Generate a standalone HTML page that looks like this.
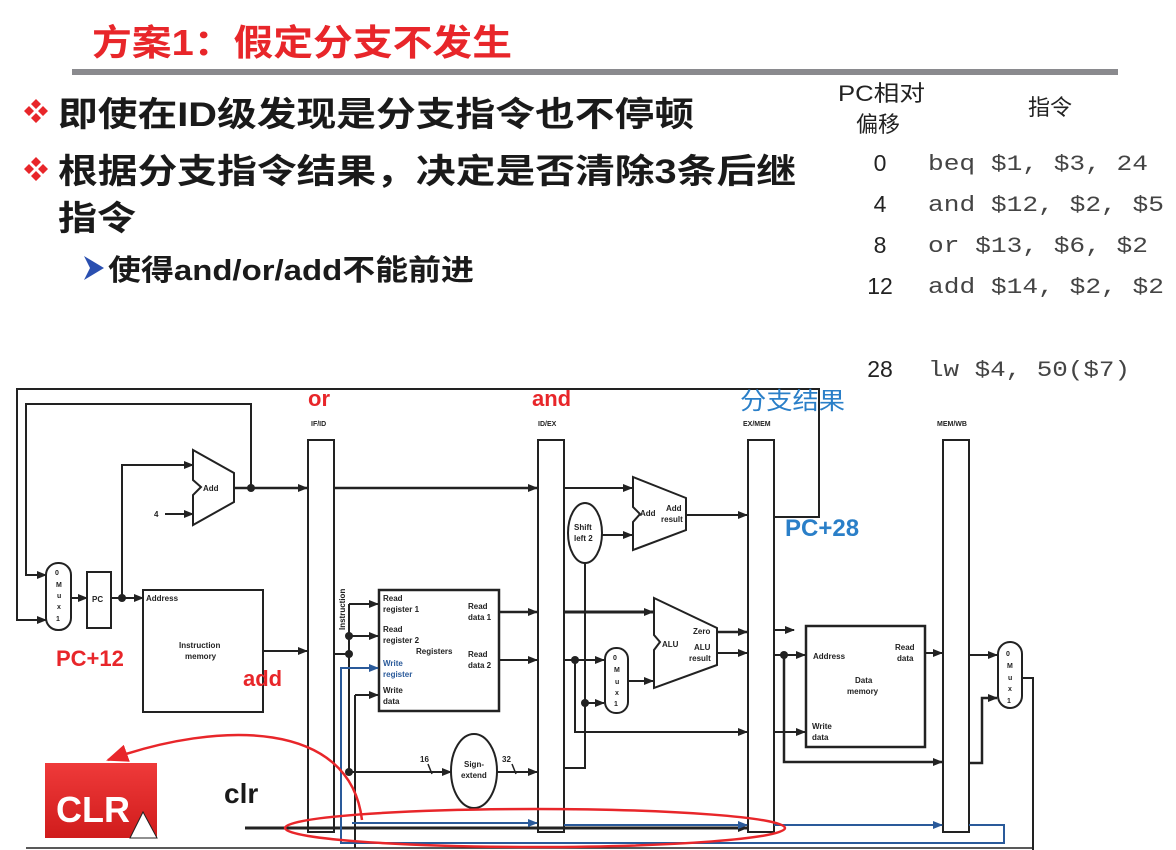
<!DOCTYPE html>
<html><head><meta charset="utf-8"><style>
html,body{margin:0;padding:0;background:#fff;width:1176px;height:850px;overflow:hidden}
svg{display:block}
.cn{font-family:"Liberation Sans","Noto Sans CJK SC",sans-serif;font-weight:bold}
.s{font-family:"Liberation Sans",sans-serif;font-size:8px;font-weight:bold;fill:#222}
</style></head><body>
<svg width="1176" height="850" viewBox="0 0 1176 850" xmlns="http://www.w3.org/2000/svg">
<defs>
<marker id="a" markerWidth="10" markerHeight="8" refX="9" refY="4" orient="auto" markerUnits="userSpaceOnUse"><path d="M0,0 L10,4 L0,8 Z" fill="#222"/></marker>
<marker id="ab" markerWidth="10" markerHeight="8" refX="9" refY="4" orient="auto" markerUnits="userSpaceOnUse"><path d="M0,0 L10,4 L0,8 Z" fill="#2a5a9a"/></marker>
<marker id="ar" markerWidth="22" markerHeight="18" refX="20" refY="9" orient="auto" markerUnits="userSpaceOnUse"><path d="M0,0 L22,9 L0,18 Z" fill="#e8262a"/></marker>
<linearGradient id="g" x1="0" y1="0" x2="0" y2="1"><stop offset="0" stop-color="#ef3a3a"/><stop offset="1" stop-color="#d01c1c"/></linearGradient>
</defs>

<!-- header -->
<text x="92" y="55" class="cn" font-size="36" fill="#e8262a" textLength="420" lengthAdjust="spacingAndGlyphs">方案1：假定分支不发生</text>
<rect x="72" y="69" width="1046" height="6" fill="#8a8a8e"/>
<g fill="#e8262a">
<path d="M36,99 l5,5 l-5,5 l-5,-5z M29,106 l5,5 l-5,5 l-5,-5z M43,106 l5,5 l-5,5 l-5,-5z M36,113 l5,5 l-5,5 l-5,-5z"/>
<path d="M36,157 l5,5 l-5,5 l-5,-5z M29,164 l5,5 l-5,5 l-5,-5z M43,164 l5,5 l-5,5 l-5,-5z M36,171 l5,5 l-5,5 l-5,-5z"/>
</g>
<text x="58" y="126" class="cn" font-size="34" fill="#1a1a1a" textLength="636" lengthAdjust="spacingAndGlyphs">即使在ID级发现是分支指令也不停顿</text>
<text x="58" y="183" class="cn" font-size="34" fill="#1a1a1a" textLength="738" lengthAdjust="spacingAndGlyphs">根据分支指令结果，决定是否清除3条后继</text>
<text x="58" y="230" class="cn" font-size="34" fill="#1a1a1a" textLength="78" lengthAdjust="spacingAndGlyphs">指令</text>
<path d="M84,256 L104,268 L84,280 L90,268 Z" fill="#2a4fb0"/>
<text x="108" y="280" class="cn" font-size="29" fill="#1a1a1a" textLength="366" lengthAdjust="spacingAndGlyphs">使得and/or/add不能前进</text>

<g font-family="Liberation Sans,Noto Sans CJK SC,sans-serif" font-size="22" fill="#222">
<text x="838" y="101" textLength="87" lengthAdjust="spacingAndGlyphs">PC相对</text>
<text x="856" y="132">偏移</text>
<text x="1028" y="115">指令</text>
<text x="880" y="171" text-anchor="middle" font-size="23">0</text>
<text x="880" y="212" text-anchor="middle" font-size="23">4</text>
<text x="880" y="253" text-anchor="middle" font-size="23">8</text>
<text x="880" y="294" text-anchor="middle" font-size="23">12</text>
<text x="880" y="377" text-anchor="middle" font-size="23">28</text>
</g>
<g font-family="Liberation Mono,monospace" font-size="22" fill="#444">
<text x="928" y="170" textLength="220" lengthAdjust="spacingAndGlyphs">beq $1, $3, 24</text>
<text x="928" y="211" textLength="236" lengthAdjust="spacingAndGlyphs">and $12, $2, $5</text>
<text x="928" y="252" textLength="220" lengthAdjust="spacingAndGlyphs">or $13, $6, $2</text>
<text x="928" y="293" textLength="236" lengthAdjust="spacingAndGlyphs">add $14, $2, $2</text>
<text x="928" y="376" textLength="202" lengthAdjust="spacingAndGlyphs">lw $4, 50($7)</text>
</g>

<!-- datapath -->
<g fill="none" stroke="#222" stroke-width="2">
<!-- outer loops -->
<path d="M775,517 H819 V389 H17 V620 H46" marker-end="url(#a)"/>
<path d="M251,488 V404 H26 V575 H46" marker-end="url(#a)"/>
<!-- mux0 -->
<rect x="46" y="563" width="25" height="67" rx="12"/>
<path d="M71,598 H87" marker-end="url(#a)"/>
<rect x="87" y="572" width="24" height="56"/>
<path d="M111,598 H143" marker-end="url(#a)"/>
<path d="M122,598 V465 H193" marker-end="url(#a)"/>
<path d="M165,514 H193" marker-end="url(#a)"/>
<!-- Add -->
<path d="M193,450 L234,473 V502 L193,525 V495 L201,487 L193,480 Z"/>
<path d="M234,488 H307" marker-end="url(#a)" stroke-width="2.5"/>
<!-- instr mem -->
<rect x="143" y="590" width="120" height="122"/>
<path d="M263,651 H307" marker-end="url(#a)"/>
<!-- pipeline regs -->
<rect x="308" y="440" width="26" height="392"/>
<rect x="538" y="440" width="26" height="392"/>
<rect x="748" y="440" width="26" height="392"/>
<rect x="943" y="440" width="26" height="392"/>
<path d="M334,488 H537" marker-end="url(#a)" stroke-width="2.5"/>
<!-- registers -->
<rect x="379" y="590" width="120" height="121" stroke-width="2.5"/>
<path d="M349,604 H378" marker-end="url(#a)"/>
<path d="M349,604 V772"/>
<path d="M349,636 H378" marker-end="url(#a)"/>
<path d="M334,654 H349"/>
<path d="M355,695 V848"/>
<path d="M355,695 H378" marker-end="url(#a)"/>
<path d="M349,772 H451" marker-end="url(#a)"/>
<path d="M499,612 H537" marker-end="url(#a)" stroke-width="2.5"/>
<path d="M499,660 H537" marker-end="url(#a)"/>
<ellipse cx="474" cy="771" rx="23" ry="37"/>
<path d="M497,772 H537" marker-end="url(#a)"/>
<path d="M428,764 l4,10 M512,764 l4,10" stroke-width="1.5"/>
<!-- EX stage -->
<path d="M564,488 H632" marker-end="url(#a)"/>
<ellipse cx="585" cy="533" rx="17" ry="30"/>
<path d="M602,535 H632" marker-end="url(#a)"/>
<path d="M585,563 V768 H564"/>
<path d="M633,477 L686,498 V530 L633,550 V522 L640,514 L633,507 Z"/>
<path d="M686,515 H747" marker-end="url(#a)"/>
<path d="M564,612 H653" marker-end="url(#a)" stroke-width="3"/>
<path d="M564,660 H604" marker-end="url(#a)"/>
<path d="M575,660 V732 H747" marker-end="url(#a)"/>
<path d="M585,703 H604" marker-end="url(#a)"/>
<rect x="605" y="648" width="23" height="65" rx="11"/>
<path d="M628,681 H653" marker-end="url(#a)"/>
<path d="M654,598 L717,628 V665 L654,688 V650 L660,642 L654,635 Z"/>
<path d="M717,632 H747" marker-end="url(#a)" stroke-width="2.5"/>
<path d="M717,653 H747" marker-end="url(#a)"/>
<!-- MEM -->
<path d="M774,630 H794" marker-end="url(#a)"/>
<path d="M774,655 H805" marker-end="url(#a)"/>
<path d="M784,655 V762 H942" marker-end="url(#a)" stroke-width="2.5"/>
<path d="M774,732 H805" marker-end="url(#a)"/>
<rect x="806" y="626" width="119" height="121" stroke-width="2.5"/>
<path d="M925,653 H942" marker-end="url(#a)"/>
<path d="M969,655 H997" marker-end="url(#a)"/>
<path d="M969,763 H982 V698 H997" marker-end="url(#a)" stroke-width="2.5"/>
<rect x="998" y="642" width="24" height="66" rx="12"/>
<path d="M1022,678 H1033 V850"/>
<!-- clr line -->
<path d="M245,828 H747" marker-end="url(#a)" stroke-width="3"/>
<path d="M26,848 H1033" stroke-width="1.5"/>
</g>
<g fill="#222">
<circle cx="251" cy="488" r="4"/><circle cx="122" cy="598" r="4"/>
<circle cx="349" cy="636" r="4"/><circle cx="349" cy="654" r="4"/><circle cx="349" cy="772" r="4"/>
<circle cx="575" cy="660" r="4"/><circle cx="585" cy="703" r="4"/><circle cx="784" cy="655" r="4"/>
</g>
<!-- blue write-register path -->
<g fill="none" stroke="#2a5a9a" stroke-width="2">
<path d="M352,823 H537" marker-end="url(#ab)"/>
<path d="M564,825 H747" marker-end="url(#ab)"/>
<path d="M774,825 H942" marker-end="url(#ab)"/>
<path d="M969,825 H1004 V843 H341 V668 H378" marker-end="url(#ab)"/>
</g>

<!-- small labels -->
<g class="s">
<text x="311" y="426" font-size="7">IF/ID</text>
<text x="538" y="426" font-size="7">ID/EX</text>
<text x="743" y="426" font-size="7">EX/MEM</text>
<text x="937" y="426" font-size="7">MEM/WB</text>
<text x="203" y="491">Add</text>
<text x="154" y="517">4</text>
<text x="55" y="575" font-size="7">0</text><text x="56" y="587" font-size="7">M</text><text x="57" y="598" font-size="7">u</text><text x="57" y="609" font-size="7">x</text><text x="56" y="621" font-size="7">1</text>
<text x="92" y="602">PC</text>
<text x="146" y="601">Address</text>
<text x="179" y="648">Instruction</text><text x="185" y="659">memory</text>
<text x="345" y="630" transform="rotate(-90 345 630)">Instruction</text>
<text x="383" y="601">Read</text><text x="383" y="612">register 1</text>
<text x="383" y="632">Read</text><text x="383" y="643">register 2</text>
<text x="383" y="666" fill="#2a5a9a">Write</text><text x="383" y="677" fill="#2a5a9a">register</text>
<text x="383" y="693">Write</text><text x="383" y="704">data</text>
<text x="416" y="654">Registers</text>
<text x="468" y="609">Read</text><text x="468" y="620">data 1</text>
<text x="468" y="657">Read</text><text x="468" y="668">data 2</text>
<text x="420" y="762">16</text><text x="502" y="762">32</text>
<text x="464" y="767">Sign-</text><text x="461" y="778">extend</text>
<text x="574" y="530">Shift</text><text x="574" y="541">left 2</text>
<text x="640" y="516">Add</text><text x="666" y="511">Add</text><text x="661" y="522">result</text>
<text x="662" y="647">ALU</text><text x="693" y="634">Zero</text><text x="694" y="650">ALU</text><text x="689" y="661">result</text>
<text x="613" y="660" font-size="7">0</text><text x="614" y="672" font-size="7">M</text><text x="615" y="684" font-size="7">u</text><text x="615" y="695" font-size="7">x</text><text x="614" y="706" font-size="7">1</text>
<text x="813" y="659">Address</text><text x="895" y="650">Read</text><text x="897" y="661">data</text>
<text x="855" y="683">Data</text><text x="847" y="694">memory</text>
<text x="812" y="729">Write</text><text x="812" y="740">data</text>
<text x="1006" y="656" font-size="7">0</text><text x="1007" y="668" font-size="7">M</text><text x="1008" y="680" font-size="7">u</text><text x="1008" y="691" font-size="7">x</text><text x="1007" y="703" font-size="7">1</text>
</g>

<!-- annotations -->
<g font-family="Liberation Sans,Noto Sans CJK SC,sans-serif" font-weight="bold">
<text x="308" y="406" font-size="22" fill="#e8262a">or</text>
<text x="532" y="406" font-size="22" fill="#e8262a">and</text>
<text x="740" y="409" font-size="24" fill="#2a7fc8" font-weight="normal" textLength="105" lengthAdjust="spacingAndGlyphs">分支结果</text>
<text x="785" y="536" font-size="24" fill="#2a7fc8">PC+28</text>
<text x="56" y="666" font-size="22" fill="#e8262a">PC+12</text>
<text x="243" y="686" font-size="22" fill="#e8262a">add</text>
<text x="224" y="803" font-size="28" fill="#1a1a1a">clr</text>
</g>
<rect x="45" y="763" width="112" height="75" fill="url(#g)"/>
<text x="56" y="822" font-family="Liberation Sans,sans-serif" font-weight="bold" font-size="36" fill="#fff">CLR</text>
<path d="M130,838 L143,812 L157,838 Z" fill="#fff" stroke="#222" stroke-width="1"/>
<!-- red annotation -->
<ellipse cx="535" cy="828" rx="250" ry="19" fill="none" stroke="#e8262a" stroke-width="2.5"/>
<path d="M362,820 C350,720 220,720 108,760" fill="none" stroke="#e8262a" stroke-width="2.5" marker-end="url(#ar)"/>
</svg>
</body></html>
